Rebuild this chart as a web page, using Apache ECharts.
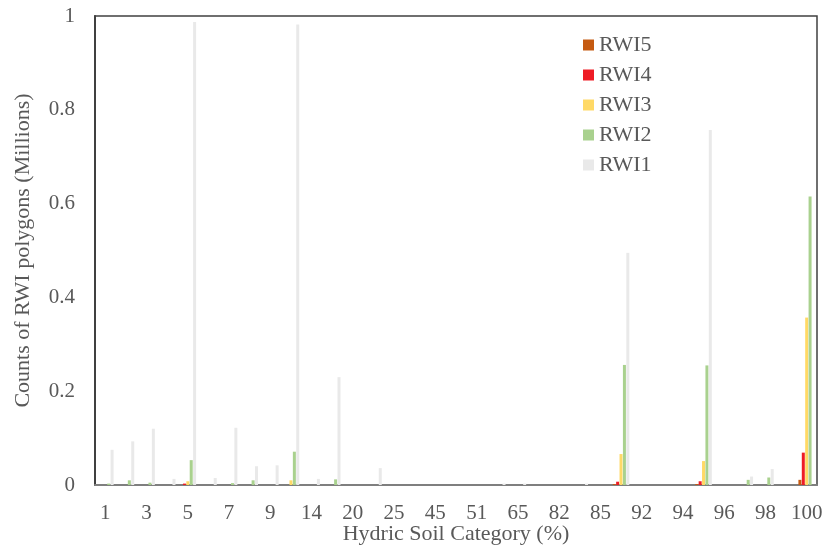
<!DOCTYPE html>
<html>
<head>
<meta charset="utf-8">
<script src="https://cdn.jsdelivr.net/npm/echarts@6/dist/echarts.min.js"></script>
<style>
  html, body { margin: 0; padding: 0; background: #fff; }
  #main { width: 824px; height: 548px; }
</style>
</head>
<body>
<div id="main"></div>
<script>
// hydric soil categories (%), only every other one is labelled
var categories = ['1','2','3','4','5','6','7','8','9','10','14','15','20','22','25','30','45','50','51','60',
                  '65','75','82','84','85','90','92','93','94','95','96','97','98','99','100'];

// counts in millions
var rwi5 = [0,0,0,0,0,0,0,0,0,0,0,0,0,0,0,0,0,0,0,0,
            0,0,0,0,0,0.002,0,0,0,0.002,0,0,0,0,0.011];
var rwi4 = [0,0,0,0,0.003,0,0,0,0,0,0,0,0,0,0,0,0,0,0,0,
            0,0,0,0,0,0.007,0,0,0,0.008,0,0,0,0,0.069];
var rwi3 = [0,0,0,0,0.008,0,0,0,0,0.01,0,0,0,0,0,0,0,0,0,0,
            0,0,0,0,0,0.066,0,0,0,0.051,0,0,0,0,0.357];
var rwi2 = [0.003,0.01,0.005,0,0.053,0,0.004,0.01,0,0.071,0,0.012,0,0,0,0,0,0,0,0,
            0,0,0,0,0,0.256,0,0,0,0.255,0,0.011,0.016,0,0.615];
var rwi1 = [0.075,0.093,0.12,0.013,0.987,0.015,0.122,0.04,0.042,0.982,0.013,0.23,0,0.036,0,0,0,0,0,0.003,
            0.003,0,0,0.003,0,0.495,0,0,0,0.757,0,0.018,0.034,0,0];

var seriesNames = ['RWI5','RWI4','RWI3','RWI2','RWI1'];
var seriesData = [rwi5, rwi4, rwi3, rwi2, rwi1];
var colors = ['#C55A11','#EE1C25','#FFD966','#A9D18E','#E9E9E9'];

var font = 'Liberation Serif';
var myChart = echarts.init(document.getElementById('main'));

var series = [];
for (var i = 0; i < seriesNames.length; i++) {
    series.push({
        name: seriesNames[i],
        type: 'bar',
        data: seriesData[i],
        barWidth: 3,
        barGap: '13%',
        itemStyle: { color: colors[i] }
    });
}

var options = {
    animation: false,
    color: colors,
    grid: {
        left: 95,
        right: 7,
        top: 16,
        bottom: 63,
        outerBoundsMode: 'none',
        show: true,
        borderColor: '#404040',
        borderWidth: 1.5
    },
    legend: {
        orient: 'vertical',
        left: 578,
        top: 29,
        itemWidth: 11,
        itemHeight: 11,
        itemGap: 8,
        icon: 'rect',
        data: seriesNames,
        textStyle: { fontFamily: font, fontSize: 22, color: '#595959' }
    },
    xAxis: {
        type: 'category',
        data: categories,
        name: 'Hydric Soil Category (%)',
        nameLocation: 'middle',
        nameGap: 38,
        nameMoveOverlap: false,
        nameTextStyle: { fontFamily: font, fontSize: 22, color: '#595959' },
        axisLine: { show: true, lineStyle: { color: '#7F7F7F', width: 2 } },
        axisTick: { show: false },
        axisLabel: {
            interval: 1,
            margin: 18,
            fontFamily: font,
            fontSize: 21,
            color: '#595959'
        }
    },
    yAxis: {
        type: 'value',
        min: 0,
        max: 1,
        interval: 0.2,
        name: 'Counts of RWI polygons (Millions)',
        nameLocation: 'middle',
        nameGap: 61,
        nameMoveOverlap: false,
        nameTextStyle: { fontFamily: font, fontSize: 22, color: '#595959' },
        axisLine: { show: true, lineStyle: { color: '#404040', width: 2 } },
        axisTick: { show: false },
        splitLine: { show: false },
        axisLabel: {
            margin: 20,
            fontFamily: font,
            fontSize: 21,
            color: '#595959',
            formatter: function (v) { return String(Math.round(v * 10) / 10); }
        }
    },
    series: series
};
myChart.setOption(options);
</script>
</body>
</html>
